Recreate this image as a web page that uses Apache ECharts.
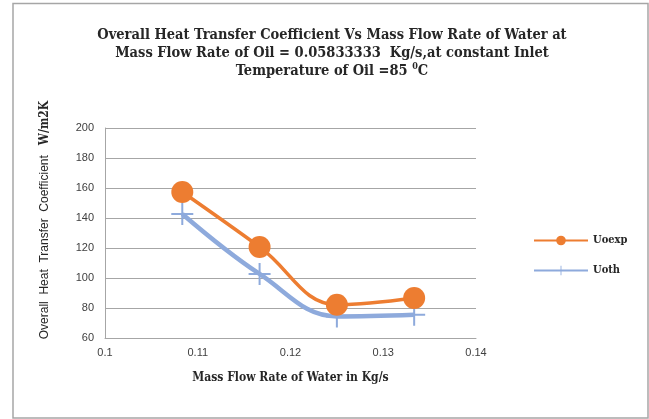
<!DOCTYPE html>
<html>
<head>
<meta charset="utf-8">
<script src="https://cdn.jsdelivr.net/npm/echarts@6/dist/echarts.min.js"></script>
<style>html,body{margin:0;padding:0;background:#fff;}#c{width:649px;height:419px;}</style>
</head>
<body>
<div id="c"></div>
<script>
var flowRates = [0.108333, 0.116667, 0.125, 0.133333];
var uoexp = [157.3, 120.7, 82.2, 86.7];
var uoth = [142.7, 102.7, 74.4, 75.5];
var seriesNames = ['Uoexp', 'Uoth'];
var titleLines = [
  'Overall Heat Transfer Coefficient Vs Mass Flow Rate of Water at',
  'Mass Flow Rate of Oil = 0.05833333  Kg/s,at constant Inlet',
  'Temperature of Oil =85 {sup|0}C'
];
var xAxisName = 'Mass Flow Rate of Water in Kg/s';
var yAxisNameA = 'Overall  Heat  Transfer  Coefficient   ';
var yAxisNameB = 'W/m2K';

var serif = '"DejaVu Serif Condensed", "Liberation Serif", serif';
var sans = '"Liberation Sans", "DejaVu Sans", sans-serif';

function pairs(xs, ys) { return xs.map(function (x, i) { return [x, ys[i]]; }); }

var plusPath = 'path://M10,0h2v10h10v2h-10v10h-2v-10h-10v-2h10z';

var chart = echarts.init(document.getElementById('c'), null, {renderer: 'canvas'});
chart.setOption({
  backgroundColor: '#fff',
  animation: false,
  title: {
    text: titleLines.join('\n'),
    left: 327, top: 21, textAlign: 'center',
    textStyle: {
      fontFamily: serif, fontWeight: 'bold', fontSize: 14.5, color: '#262626', lineHeight: 18,
      rich: { sup: { fontFamily: serif, fontWeight: 'bold', fontSize: 9, color: '#262626', verticalAlign: 'top', lineHeight: 18, padding: [0, 0, 6, 0] } }
    }
  },
  graphic: [
    { type: 'rect', shape: { x: 13, y: 3.5, width: 635, height: 414.5 }, style: { fill: 'none', stroke: '#a6a6a6', lineWidth: 1.5 }, z: -1 },
    { type: 'text', x: 45, y: 220, rotation: Math.PI / 2, style: {
        text: '{a|' + yAxisNameA + '}{b|' + yAxisNameB + '}', align: 'center', verticalAlign: 'middle',
        rich: {
          a: { fontFamily: sans, fontSize: 12, fill: '#262626' },
          b: { fontFamily: serif, fontSize: 12, fontWeight: 'bold', fill: '#262626' }
        } } }
  ],
  legend: {
    data: seriesNames,
    orient: 'vertical',
    left: 528, top: 230,
    itemWidth: 54, itemHeight: 12, itemGap: 19,
    textStyle: { fontFamily: serif, fontWeight: 'bold', fontSize: 11, color: '#262626' }
  },
  grid: { left: 105, right: 173, top: 128, bottom: 81, containLabel: false },
  xAxis: {
    type: 'value', min: 0.1, max: 0.14, interval: 0.01,
    name: xAxisName, nameLocation: 'middle', nameGap: 34,
    nameTextStyle: { fontFamily: serif, fontWeight: 'bold', fontSize: 12, color: '#262626' },
    axisLine: { show: true, lineStyle: { color: '#a6a6a6', width: 1 } },
    axisTick: { show: false },
    splitLine: { show: false },
    axisLabel: { fontFamily: sans, fontSize: 11, color: '#404040', margin: 9,
      formatter: function (v) { return String(parseFloat(v.toFixed(2))); } }
  },
  yAxis: {
    type: 'value', min: 60, max: 200, interval: 20,
    axisLine: { show: true, lineStyle: { color: '#a6a6a6', width: 1 } },
    axisTick: { show: false },
    splitLine: { show: true, lineStyle: { color: '#a6a6a6', width: 1 } },
    axisLabel: { fontFamily: sans, fontSize: 11, color: '#404040', margin: 11 }
  },
  series: [
    {
      name: seriesNames[0], type: 'line', data: pairs(flowRates, uoexp), smooth: 0.4,
      symbol: 'circle', symbolSize: 22, z: 3,
      lineStyle: { color: '#ed7d31', width: 3.5 },
      itemStyle: { color: '#ed7d31' }
    },
    {
      name: seriesNames[1], type: 'line', data: pairs(flowRates, uoth), smooth: 0.4,
      symbol: plusPath, symbolSize: 22, z: 2,
      lineStyle: { color: '#8eaadc', width: 4.5 },
      itemStyle: { color: '#8eaadc' }
    }
  ]
});
</script>
</body>
</html>
